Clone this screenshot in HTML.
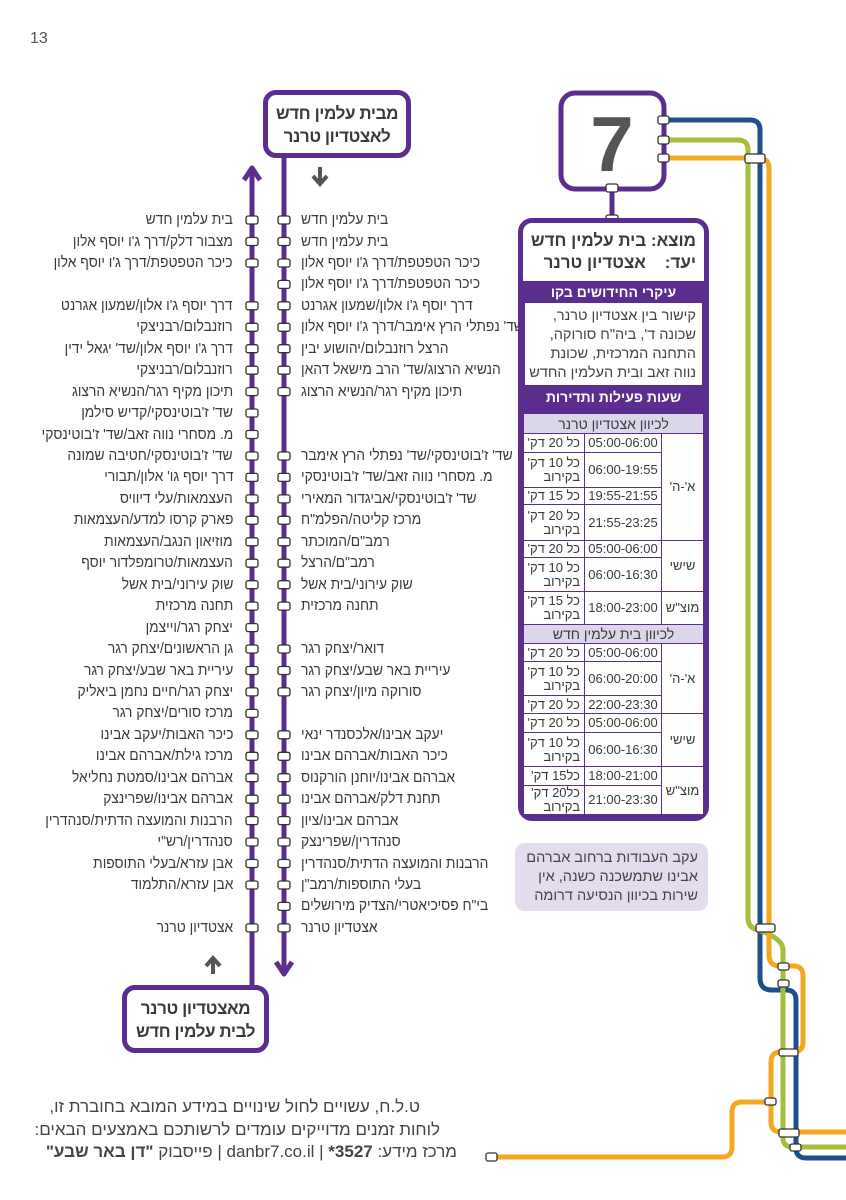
<!DOCTYPE html>
<html><head><meta charset="utf-8"><style>
*{margin:0;padding:0;box-sizing:border-box}
body{width:846px;height:1200px;position:relative;background:#fff;font-family:"Liberation Sans","DejaVu Sans",sans-serif;color:#3a3a3a;overflow:hidden}
.r,.l{position:absolute;white-space:nowrap;direction:rtl;font-size:15px;line-height:20px}
.r{left:301px;transform:scaleX(.92);transform-origin:left center}
.l{right:613px;transform:scaleX(.92);transform-origin:right center}
.box{position:absolute;border:5px solid #5b2d8e;border-radius:13px;background:#fff;text-align:center;direction:rtl;font-size:17px;line-height:23px;color:#3a3a3a;font-weight:bold;letter-spacing:-0.4px}
.t{position:absolute;direction:rtl}
table{border-collapse:collapse;width:181px;direction:rtl;font-size:13px;color:#3a3a3a}
td{border:1px solid #5b2d8e;text-align:center;padding:0;line-height:14px}
td.h{background:#dcd6ea;font-size:14px}
td.f{text-align:right;padding-right:4px;width:61px}
td.tm{width:77px}
</style></head><body>
<div style="position:absolute;left:30px;top:30px;font-size:16px;color:#555">13</div>

<svg width="846" height="1200" style="position:absolute;left:0;top:0">
<g fill="none" stroke-width="5" stroke-linejoin="round">
<path d="M665 120 H750 Q760 120 760 130 V978 Q760 990 772 990 H786 Q796 990 796 1000 V1148 Q796 1158 806 1158 H846" stroke="#1d4f8a"/>
<path d="M665 140 H738 Q748 140 748 150 V918 Q748 928 758 930 Q783 938 783 950 V1138 Q783 1147 793 1147 H846" stroke="#a3bf3b"/>
<path d="M665 158 H758 Q769 158 769 168 V955 Q769 966 780 966 H794 Q803 966 803 976 V1042 Q803 1052 793 1052 H781 Q771 1052 771 1062 V1122 Q771 1132 781 1132 H846" stroke="#f4a81e"/>
<path d="M492 1157 H722 Q732 1157 732 1147 V1112 Q732 1102 742 1102 H771" stroke="#f4a81e"/>
<path d="M612 190 V220" stroke="#5b2d8e"/>
<path d="M284 157 V972" stroke="#5b2d8e"/>
<path d="M252 985 V170" stroke="#5b2d8e"/>
<path d="M276 962 L284 974 L292 962" stroke="#5b2d8e"/>
<path d="M244 180 L252 168 L260 180" stroke="#5b2d8e"/>
</g>
<rect x="561" y="93" width="103" height="96" rx="14" fill="#fff" stroke="#5b2d8e" stroke-width="5"/>
<text x="612" y="171" text-anchor="middle" font-family="Liberation Sans" font-weight="bold" font-size="78" fill="#555">7</text>
<path d="M320 167 V183 M313 176 L320 184 L327 176" stroke="#555" stroke-width="4" fill="none"/>
<path d="M213 974 V959 M206 966 L213 958 L220 966" stroke="#555" stroke-width="4" fill="none"/>
<g fill="#fff" stroke="#333" stroke-width="1.3">
<rect x="658" y="116" width="11" height="8" rx="2"/>
<rect x="658" y="136" width="11" height="8" rx="2"/>
<rect x="658" y="154" width="11" height="8" rx="2"/>
<rect x="745" y="154" width="20" height="9" rx="2"/>
<rect x="606" y="184" width="12" height="8" rx="2"/>
<rect x="606" y="215" width="12" height="8" rx="2"/>
<rect x="756" y="924" width="19" height="8" rx="2"/>
<rect x="778" y="963" width="11" height="7" rx="2"/>
<rect x="778" y="980" width="11" height="7" rx="2"/>
<rect x="779" y="1049" width="19" height="7" rx="2"/>
<rect x="765" y="1098" width="11" height="7" rx="2"/>
<rect x="779" y="1129" width="20" height="8" rx="2"/>
<rect x="790" y="1144" width="11" height="7" rx="2"/>
<rect x="486" y="1153" width="11" height="8" rx="2"/>
</g>
<g fill="#fff" stroke="#333" stroke-width="1.3">
<rect x="278" y="216" width="12" height="8" rx="2"/><rect x="278" y="237.5" width="12" height="8" rx="2"/><rect x="278" y="259" width="12" height="8" rx="2"/><rect x="278" y="280.4" width="12" height="8" rx="2"/><rect x="278" y="301.8" width="12" height="8" rx="2"/><rect x="278" y="323.3" width="12" height="8" rx="2"/><rect x="278" y="344.7" width="12" height="8" rx="2"/><rect x="278" y="366.2" width="12" height="8" rx="2"/><rect x="278" y="387.6" width="12" height="8" rx="2"/>
<rect x="278" y="452" width="12" height="8" rx="2"/><rect x="278" y="473.4" width="12" height="8" rx="2"/><rect x="278" y="494.9" width="12" height="8" rx="2"/><rect x="278" y="516.3" width="12" height="8" rx="2"/><rect x="278" y="537.8" width="12" height="8" rx="2"/><rect x="278" y="559.2" width="12" height="8" rx="2"/><rect x="278" y="580.7" width="12" height="8" rx="2"/><rect x="278" y="602.1" width="12" height="8" rx="2"/>
<rect x="278" y="645" width="12" height="8" rx="2"/><rect x="278" y="666.5" width="12" height="8" rx="2"/><rect x="278" y="687.9" width="12" height="8" rx="2"/>
<rect x="278" y="730.8" width="12" height="8" rx="2"/><rect x="278" y="752.3" width="12" height="8" rx="2"/><rect x="278" y="773.7" width="12" height="8" rx="2"/><rect x="278" y="795.2" width="12" height="8" rx="2"/><rect x="278" y="816.6" width="12" height="8" rx="2"/><rect x="278" y="838" width="12" height="8" rx="2"/><rect x="278" y="859.5" width="12" height="8" rx="2"/><rect x="278" y="881" width="12" height="8" rx="2"/><rect x="278" y="902.4" width="12" height="8" rx="2"/><rect x="278" y="923.9" width="12" height="8" rx="2"/>
<rect x="246" y="216" width="12" height="8" rx="2"/><rect x="246" y="237.5" width="12" height="8" rx="2"/><rect x="246" y="259" width="12" height="8" rx="2"/><rect x="246" y="301.8" width="12" height="8" rx="2"/><rect x="246" y="323.3" width="12" height="8" rx="2"/><rect x="246" y="344.7" width="12" height="8" rx="2"/><rect x="246" y="366.2" width="12" height="8" rx="2"/><rect x="246" y="387.6" width="12" height="8" rx="2"/><rect x="246" y="409" width="12" height="8" rx="2"/><rect x="246" y="430.5" width="12" height="8" rx="2"/><rect x="246" y="452" width="12" height="8" rx="2"/><rect x="246" y="473.4" width="12" height="8" rx="2"/><rect x="246" y="494.9" width="12" height="8" rx="2"/><rect x="246" y="516.3" width="12" height="8" rx="2"/><rect x="246" y="537.8" width="12" height="8" rx="2"/><rect x="246" y="559.2" width="12" height="8" rx="2"/><rect x="246" y="580.7" width="12" height="8" rx="2"/><rect x="246" y="602.1" width="12" height="8" rx="2"/><rect x="246" y="623.6" width="12" height="8" rx="2"/><rect x="246" y="645" width="12" height="8" rx="2"/><rect x="246" y="666.5" width="12" height="8" rx="2"/><rect x="246" y="687.9" width="12" height="8" rx="2"/><rect x="246" y="709.4" width="12" height="8" rx="2"/><rect x="246" y="730.8" width="12" height="8" rx="2"/><rect x="246" y="752.3" width="12" height="8" rx="2"/><rect x="246" y="773.7" width="12" height="8" rx="2"/><rect x="246" y="795.2" width="12" height="8" rx="2"/><rect x="246" y="816.6" width="12" height="8" rx="2"/><rect x="246" y="838" width="12" height="8" rx="2"/><rect x="246" y="859.5" width="12" height="8" rx="2"/><rect x="246" y="881" width="12" height="8" rx="2"/><rect x="246" y="923.9" width="12" height="8" rx="2"/>
</g>
</svg>

<div class="box" style="left:263px;top:90px;width:148px;height:68px;padding-top:7px">מבית עלמין חדש<br>לאצטדיון טרנר</div>
<div class="box" style="left:122px;top:985px;width:147px;height:68px;padding-top:7px">מאצטדיון טרנר<br>לבית עלמין חדש</div>

<div class="r" style="top:210px">בית עלמין חדש</div>
<div class="r" style="top:231.5px">בית עלמין חדש</div>
<div class="r" style="top:253px">כיכר הטפטפת/דרך ג'ו יוסף אלון</div>
<div class="r" style="top:274.4px">כיכר הטפטפת/דרך ג'ו יוסף אלון</div>
<div class="r" style="top:295.8px">דרך יוסף ג'ו אלון/שמעון אגרנט</div>
<div class="r" style="top:317.3px">שד' נפתלי הרץ אימבר/דרך ג'ו יוסף אלון</div>
<div class="r" style="top:338.7px">הרצל רוזנבלום/יהושוע יבין</div>
<div class="r" style="top:360.2px">הנשיא הרצוג/שד' הרב מישאל דהאן</div>
<div class="r" style="top:381.6px">תיכון מקיף רגר/הנשיא הרצוג</div>
<div class="r" style="top:446px">שד' ז'בוטינסקי/שד' נפתלי הרץ אימבר</div>
<div class="r" style="top:467.4px">מ. מסחרי נווה זאב/שד' ז'בוטינסקי</div>
<div class="r" style="top:488.9px">שד' ז'בוטינסקי/אביגדור המאירי</div>
<div class="r" style="top:510.3px">מרכז קליטה/הפלמ"ח</div>
<div class="r" style="top:531.8px">רמב"ם/המוכתר</div>
<div class="r" style="top:553.2px">רמב"ם/הרצל</div>
<div class="r" style="top:574.7px">שוק עירוני/בית אשל</div>
<div class="r" style="top:596.1px">תחנה מרכזית</div>
<div class="r" style="top:639px">דואר/יצחק רגר</div>
<div class="r" style="top:660.5px">עיריית באר שבע/יצחק רגר</div>
<div class="r" style="top:681.9px">סורוקה מיון/יצחק רגר</div>
<div class="r" style="top:724.8px">יעקב אבינו/אלכסנדר ינאי</div>
<div class="r" style="top:746.3px">כיכר האבות/אברהם אבינו</div>
<div class="r" style="top:767.7px">אברהם אבינו/יוחנן הורקנוס</div>
<div class="r" style="top:789.2px">תחנת דלק/אברהם אבינו</div>
<div class="r" style="top:810.6px">אברהם אבינו/ציון</div>
<div class="r" style="top:832px">סנהדרין/שפרינצק</div>
<div class="r" style="top:853.5px">הרבנות והמועצה הדתית/סנהדרין</div>
<div class="r" style="top:875px">בעלי התוספות/רמב"ן</div>
<div class="r" style="top:896.4px">בי"ח פסיכיאטרי/הצדיק מירושלים</div>
<div class="r" style="top:917.9px">אצטדיון טרנר</div>

<div class="l" style="top:210px">בית עלמין חדש</div>
<div class="l" style="top:231.5px">מצבור דלק/דרך ג'ו יוסף אלון</div>
<div class="l" style="top:253px">כיכר הטפטפת/דרך ג'ו יוסף אלון</div>
<div class="l" style="top:295.8px">דרך יוסף ג'ו אלון/שמעון אגרנט</div>
<div class="l" style="top:317.3px">רוזנבלום/רבניצקי</div>
<div class="l" style="top:338.7px">דרך ג'ו יוסף אלון/שד' יגאל ידין</div>
<div class="l" style="top:360.2px">רוזנבלום/רבניצקי</div>
<div class="l" style="top:381.6px">תיכון מקיף רגר/הנשיא הרצוג</div>
<div class="l" style="top:403px">שד' ז'בוטינסקי/קדיש סילמן</div>
<div class="l" style="top:424.5px">מ. מסחרי נווה זאב/שד' ז'בוטינסקי</div>
<div class="l" style="top:446px">שד' ז'בוטינסקי/חטיבה שמונה</div>
<div class="l" style="top:467.4px">דרך יוסף גו' אלון/תבורי</div>
<div class="l" style="top:488.9px">העצמאות/עלי דיוויס</div>
<div class="l" style="top:510.3px">פארק קרסו למדע/העצמאות</div>
<div class="l" style="top:531.8px">מוזיאון הנגב/העצמאות</div>
<div class="l" style="top:553.2px">העצמאות/טרומפלדור יוסף</div>
<div class="l" style="top:574.7px">שוק עירוני/בית אשל</div>
<div class="l" style="top:596.1px">תחנה מרכזית</div>
<div class="l" style="top:617.6px">יצחק רגר/וייצמן</div>
<div class="l" style="top:639px">גן הראשונים/יצחק רגר</div>
<div class="l" style="top:660.5px">עיריית באר שבע/יצחק רגר</div>
<div class="l" style="top:681.9px">יצחק רגר/חיים נחמן ביאליק</div>
<div class="l" style="top:703.4px">מרכז סורים/יצחק רגר</div>
<div class="l" style="top:724.8px">כיכר האבות/יעקב אבינו</div>
<div class="l" style="top:746.3px">מרכז גילת/אברהם אבינו</div>
<div class="l" style="top:767.7px">אברהם אבינו/סמטת נחליאל</div>
<div class="l" style="top:789.2px">אברהם אבינו/שפרינצק</div>
<div class="l" style="top:810.6px">הרבנות והמועצה הדתית/סנהדרין</div>
<div class="l" style="top:832px">סנהדרין/רש"י</div>
<div class="l" style="top:853.5px">אבן עזרא/בעלי התוספות</div>
<div class="l" style="top:875px">אבן עזרא/התלמוד</div>
<div class="l" style="top:917.9px">אצטדיון טרנר</div>

<div style="position:absolute;left:518px;top:218px;width:191px;height:603px;border:5px solid #5b2d8e;border-radius:14px;background:#5b2d8e;overflow:hidden">
 <div style="background:#fff;height:58px;direction:rtl;font-weight:bold;font-size:17px;line-height:22px;padding:7px 8px 0 0;color:#3a3a3a">מוצא: בית עלמין חדש<br>יעד:&nbsp;&nbsp;&nbsp; אצטדיון טרנר</div>
 <div style="height:22px;color:#fff;font-weight:bold;font-size:14px;text-align:center;direction:rtl;line-height:22px">עיקרי החידושים בקו</div>
 <div style="background:#fff;margin:0 2px;height:82px;direction:rtl;font-size:14.5px;line-height:19px;padding:4px 6px 0 0;color:#444">קישור בין אצטדיון טרנר, שכונה ד', ביה"ח סורוקה, התחנה המרכזית, שכונת נווה זאב ובית העלמין החדש</div>
 <div style="height:24px;color:#fff;font-weight:bold;font-size:14px;text-align:center;direction:rtl;line-height:24px">שעות פעילות ותדירות</div>
</div>
<div style="position:absolute;left:523px;top:413px;background:#fff">
<table>
<tr style="height:20px"><td class="h" colspan="3">לכיוון אצטדיון טרנר</td></tr>
<tr style="height:19px"><td rowspan="4">א'-ה'</td><td class="tm">05:00-06:00</td><td class="f">כל 20 דק'</td></tr>
<tr style="height:35px"><td class="tm">06:00-19:55</td><td class="f">כל 10 דק'<br>בקירוב</td></tr>
<tr style="height:17px"><td class="tm">19:55-21:55</td><td class="f">כל 15 דק'</td></tr>
<tr style="height:36px"><td class="tm">21:55-23:25</td><td class="f">כל 20 דק'<br>בקירוב</td></tr>
<tr style="height:17px"><td rowspan="2">שישי</td><td class="tm">05:00-06:00</td><td class="f">כל 20 דק'</td></tr>
<tr style="height:34px"><td class="tm">06:00-16:30</td><td class="f">כל 10 דק'<br>בקירוב</td></tr>
<tr style="height:33px"><td>מוצ"ש</td><td class="tm">18:00-23:00</td><td class="f">כל 15 דק'<br>בקירוב</td></tr>
<tr style="height:19px"><td class="h" colspan="3">לכיוון בית עלמין חדש</td></tr>
<tr style="height:18px"><td rowspan="3">א'-ה'</td><td class="tm">05:00-06:00</td><td class="f">כל 20 דק'</td></tr>
<tr style="height:34px"><td class="tm">06:00-20:00</td><td class="f">כל 10 דק'<br>בקירוב</td></tr>
<tr style="height:18px"><td class="tm">22:00-23:30</td><td class="f">כל 20 דק'</td></tr>
<tr style="height:19px"><td rowspan="2">שישי</td><td class="tm">05:00-06:00</td><td class="f">כל 20 דק'</td></tr>
<tr style="height:34px"><td class="tm">06:00-16:30</td><td class="f">כל 10 דק'<br>בקירוב</td></tr>
<tr style="height:19px"><td rowspan="2">מוצ"ש</td><td class="tm">18:00-21:00</td><td class="f">כל15 דק'</td></tr>
<tr style="height:29px"><td class="tm">21:00-23:30</td><td class="f">כל20 דק'<br>בקירוב</td></tr>
</table>
</div>

<div style="position:absolute;left:515px;top:843px;width:193px;height:68px;background:#e2dcee;border-radius:10px;direction:rtl;font-size:14.5px;line-height:19px;padding:6px 10px 0 0;color:#444">עקב העבודות ברחוב אברהם אבינו שתמשכנה כשנה, אין שירות בכיוון הנסיעה דרומה</div>

<div class="t" style="right:426px;top:1097px;font-size:17px;color:#444">ט.ל.ח, עשויים לחול שינויים במידע המובא בחוברת זו,</div>
<div class="t" style="right:406px;top:1120px;font-size:17px;color:#444">לוחות זמנים מדוייקים עומדים לרשותכם באמצעים הבאים:</div>
<div class="t" style="right:389px;top:1142px;font-size:17px;color:#444">מרכז מידע: <b>3527*</b> | danbr7.co.il | פייסבוק <b>"דן באר שבע"</b></div>
</body></html>
